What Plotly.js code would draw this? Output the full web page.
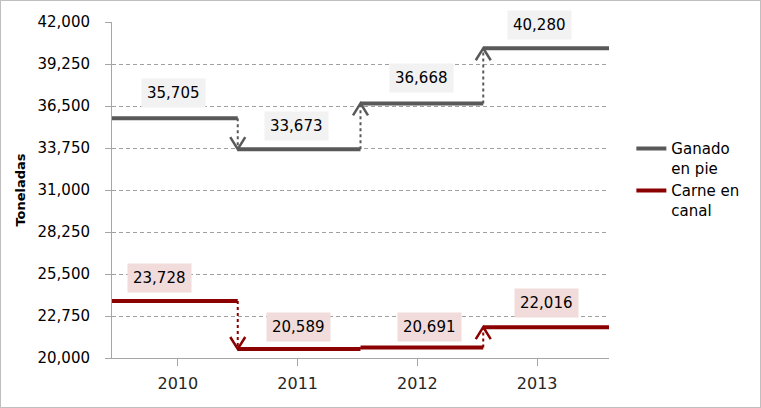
<!DOCTYPE html>
<html>
<head>
<meta charset="utf-8">
<script src="https://cdn.plot.ly/plotly-3.0.1.min.js"></script>
<style>
  html, body { margin: 0; padding: 0; background: #fff; }
  #wrap { position: relative; width: 761px; height: 408px; }
  #chart { position: absolute; left: 0; top: 0; width: 761px; height: 408px; }
  #frame { position: absolute; left: 0; top: 0; width: 759px; height: 406px; border: 1px solid #bfbfbf; pointer-events: none; }
</style>
</head>
<body>
<div id="wrap"><div id="chart"></div><div id="frame"></div></div>
<script>
// ---- data ----
const years = ['2010', '2011', '2012', '2013'];
const ganado = [35705, 33673, 36668, 40280];
const carne = [23728, 20589, 20691, 22016];
const seriesNames = ['Ganado<br>en pie', 'Carne en<br>canal'];
const yTicks = [20000, 22750, 25500, 28250, 31000, 33750, 36500, 39250, 42000];

// ---- style ----
const colors = ['#595959', '#8b0000'];
const boxColors = ['#f2f2f2', '#f2dcdb'];
const xRange = [-0.55, 3.6];
const yRange = [20000, 42000];
const stepEdges = [0.5, 1.525, 2.55]; // where each year's segment hands over to the next
const margin = {l: 112, r: 152, t: 22, b: 50};
const plotW = 761 - margin.l - margin.r;
const plotH = 408 - margin.t - margin.b;
const pxX = (xRange[1] - xRange[0]) / plotW;
const pxY = (yRange[1] - yRange[0]) / plotH;
// label offsets in pixels [xshift, yshift]
const labelOffsets = [
  [[-4, 25], [-1, 23], [4, 25], [2, 23]],
  [[-18, 23], [1, 22], [12, 20], [9, 24]]
];
const font = 'DejaVu Sans, Verdana, sans-serif';

const traces = [];
const annotations = [];
[ganado, carne].forEach((vals, s) => {
  const xs = [], ys = [];
  vals.forEach((v, i) => {
    const x0 = i === 0 ? xRange[0] : stepEdges[i - 1];
    const x1 = i === vals.length - 1 ? xRange[1] : stepEdges[i];
    xs.push(x0, x1, null); ys.push(v, v, null);
  });
  const cx = [], cy = [], ax = [], ay = [];
  for (let i = 1; i < vals.length; i++) {
    const xc = stepEdges[i - 1];
    cx.push(xc, xc, null); cy.push(vals[i - 1], vals[i], null);
    const diff = vals[i] - vals[i - 1];
    if (Math.abs(diff) > 500) {
      const dir = diff > 0 ? -1 : 1;
      const dx = 7.5 * pxX, dy = 12 * pxY * dir;
      ax.push(xc - dx, xc, xc + dx, null);
      ay.push(vals[i] + dy, vals[i], vals[i] + dy, null);
    }
  }
  traces.push({x: cx, y: cy, mode: 'lines', line: {color: colors[s], width: 2, dash: 'dot'}, showlegend: false, hoverinfo: 'skip'});
  traces.push({x: ax, y: ay, mode: 'lines', line: {color: colors[s], width: 2.5}, showlegend: false, hoverinfo: 'skip'});
  traces.push({x: xs, y: ys, mode: 'lines', name: seriesNames[s], line: {color: colors[s], width: 4}, hoverinfo: 'skip'});
  vals.forEach((v, i) => {
    annotations.push({
      x: i, y: v, xref: 'x', yref: 'y',
      text: v.toLocaleString('en-US'), showarrow: false,
      xshift: labelOffsets[s][i][0], yshift: labelOffsets[s][i][1],
      bgcolor: boxColors[s], borderpad: 5,
      font: {family: font, size: 15, color: '#000'}
    });
  });
});

const layout = {
  width: 761, height: 408,
  margin: margin,
  paper_bgcolor: '#fff', plot_bgcolor: '#fff',
  showlegend: true,
  legend: {x: 1.045, y: 0.672, xanchor: 'left', yanchor: 'top', tracegroupgap: 2, valign: 'top',
           font: {family: font, size: 15, color: '#000'}, bgcolor: 'rgba(0,0,0,0)'},
  xaxis: {
    range: xRange, tickvals: [0, 1, 2, 3], ticktext: years,
    showgrid: false, zeroline: false, showline: true, linecolor: '#a6a6a6', linewidth: 1,
    ticks: 'outside', ticklen: 7, tickcolor: '#a6a6a6',
    tickfont: {family: font, size: 16, color: '#262626'}, ticklabelstandoff: 4
  },
  yaxis: {
    range: yRange, tickvals: yTicks, tickformat: ',d',
    showgrid: true, gridcolor: '#a0a0a0', griddash: '4px,3px', gridwidth: 1,
    zeroline: false, showline: true, linecolor: '#a6a6a6', linewidth: 1,
    ticks: 'outside', ticklen: 6, tickcolor: '#a6a6a6', ticklabelstandoff: 12,
    tickfont: {family: font, size: 15, color: '#000'},
    title: {text: '<b>Toneladas</b>', font: {family: font, size: 13, color: '#000'}, standoff: 8}
  },
  annotations: annotations
};

Plotly.newPlot('chart', traces, layout, {staticPlot: true, displayModeBar: false});
</script>
</body>
</html>
